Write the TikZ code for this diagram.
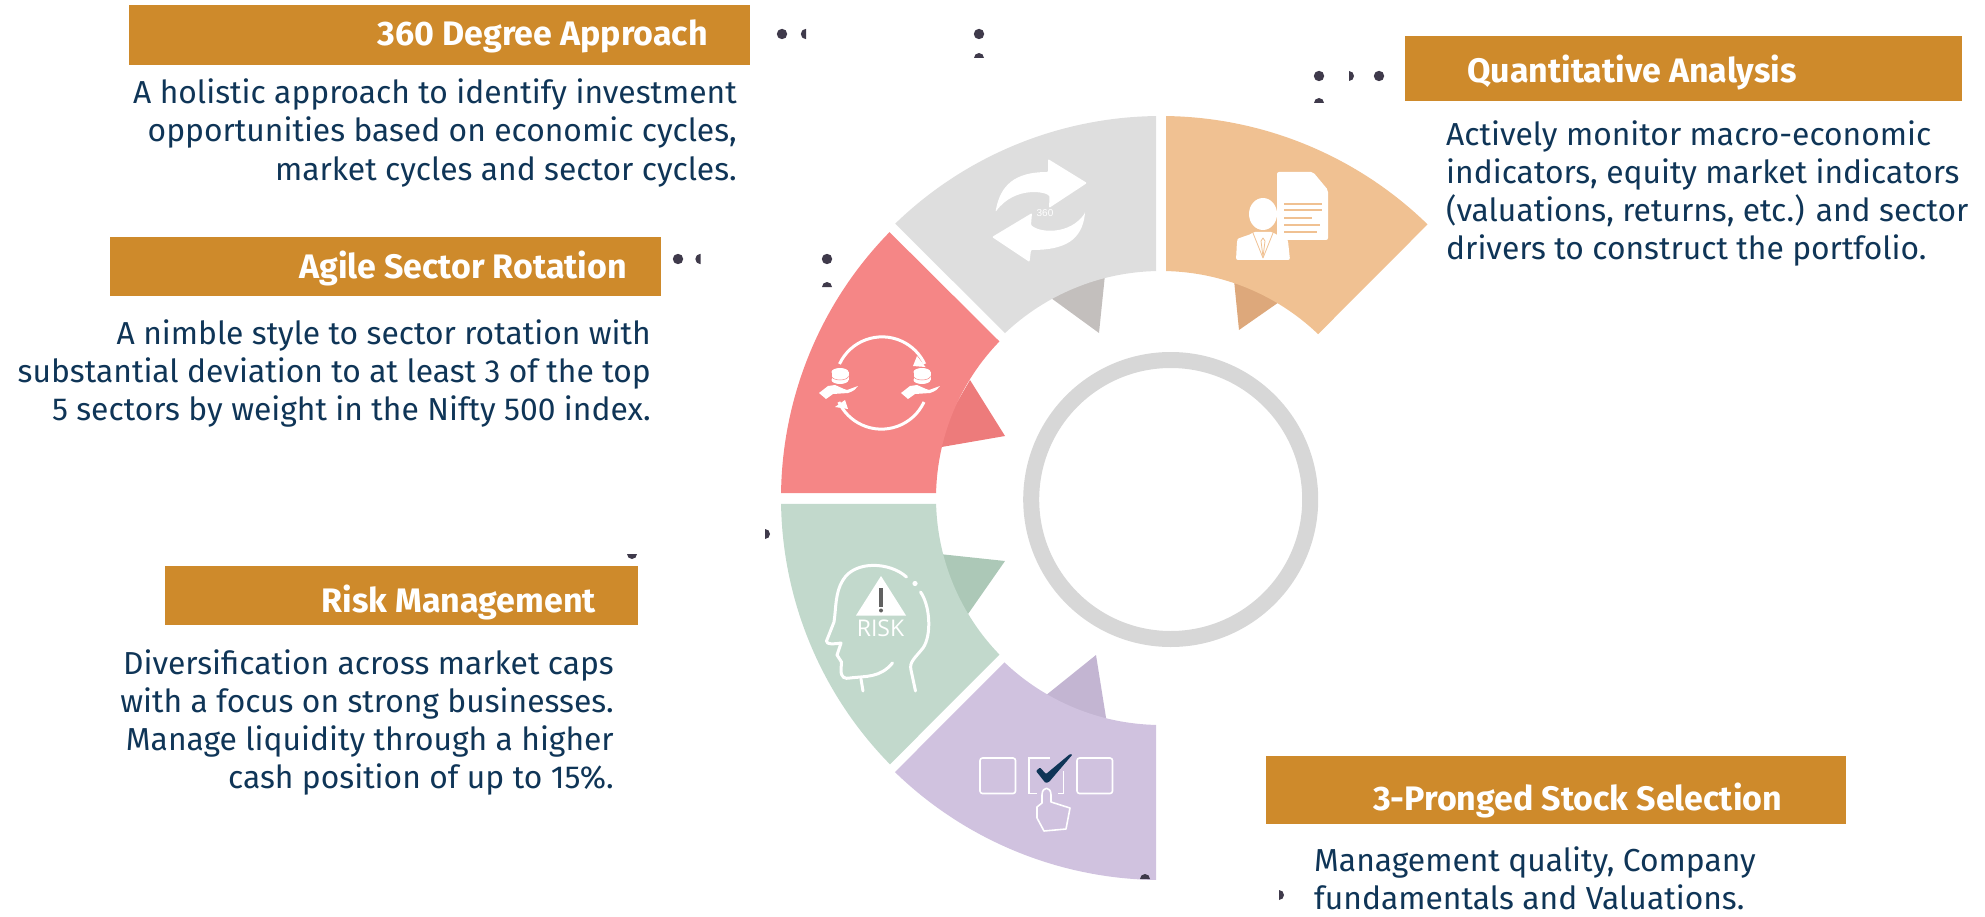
\documentclass[tikz,border=0pt]{standalone}
\usepackage{fontspec}
\setmainfont{Fira Sans}
\newfontfamily\riskfont{Open Sans}
\newfontfamily\tinyfont{Liberation Sans}
\definecolor{gold}{HTML}{CE8A2B}
\definecolor{navy}{HTML}{0F3557}
\definecolor{segGray}{HTML}{DEDEDE}
\definecolor{segOrange}{HTML}{F0C192}
\definecolor{segRed}{HTML}{F58686}
\definecolor{segGreen}{HTML}{C2D9CC}
\definecolor{segPurple}{HTML}{D0C2DF}
\definecolor{tabGray}{HTML}{C3BFBD}
\definecolor{tabOrange}{HTML}{DDA87B}
\definecolor{tabRed}{HTML}{ED7B7B}
\definecolor{tabGreen}{HTML}{ACC8B7}
\definecolor{tabPurple}{HTML}{C3B5D2}
\definecolor{ringGray}{HTML}{D7D7D7}
\definecolor{dotc}{HTML}{3F3A4B}
\tikzset{
  x=1pt,y=1pt,
  titlebar/.style={fill=gold,draw=none},
  titletext/.style={text=white,font=\fontsize{34}{38}\selectfont\bfseries,inner sep=0pt},
  bodyr/.style={text=navy,font=\fontsize{31.8}{38.3}\selectfont,inner sep=0pt,align=right,anchor=north east},
  bodyl/.style={text=navy,font=\fontsize{31.8}{38.3}\selectfont,inner sep=0pt,align=left,anchor=north west},
  whiteline/.style={draw=white,line width=3pt,line cap=round,line join=round},
  dot/.style={fill=dotc,draw=none}
}
\begin{document}
\begin{tikzpicture}
\useasboundingbox (0,0) rectangle (1985,-917);
\begin{scope}[y=-1pt]
% tabs behind the segments
\fill[tabGray] (1106,265) -- (1099,333) -- (1040,290) -- cycle;
\fill[tabOrange] (1233,270) -- (1239,330) -- (1292,293) -- cycle;
\fill[tabRed] (970,380) -- (1005,436) -- (930,449) -- cycle;
\fill[tabGreen] (930,553) -- (1005,561) -- (968,614) -- (950,620) -- cycle;
\fill[tabPurple] (1040,700) -- (1096,655) -- (1108,730) -- cycle;
\end{scope}
% segments, polar about the centre of the wheel
\begin{scope}[shift={(1161,-498)}]
\fill[segOrange] (89.25:382) arc[start angle=89.25,end angle=45.75,radius=382] -- (46.2:227) arc[start angle=46.2,end angle=88.74,radius=227] -- cycle;
\fill[segGray] (90.75:382) arc[start angle=90.75,end angle=134.1,radius=382] -- (133.4:227) arc[start angle=133.4,end angle=91.26,radius=227] -- cycle;
\fill[segRed] (135.6:380) arc[start angle=135.6,end angle=179.25,radius=380] -- (178.74:225) arc[start angle=178.74,end angle=135.9,radius=225] -- cycle;
\fill[segGreen] (180.9:380) arc[start angle=180.9,end angle=224.5,radius=380] -- (224.1:225) arc[start angle=224.1,end angle=181.5,radius=225] -- cycle;
\fill[segPurple] (225.85:382) arc[start angle=225.85,end angle=269.25,radius=382] -- (268.74:227) arc[start angle=268.74,end angle=226.4,radius=227] -- cycle;
\end{scope}
% centre ring
\draw[ringGray,line width=16pt] (1170.7,-499.5) circle[radius=139.5];
\begin{scope}[y=-1pt]
% title bars
\fill[titlebar] (129,5) rectangle (750,65);
\fill[titlebar] (110,237) rectangle (661,296);
\fill[titlebar] (1405,36) rectangle (1962,101);
\fill[titlebar] (165,566) rectangle (638,625);
\fill[titlebar] (1266,756) rectangle (1846,824);
% titles
\node[titletext,anchor=base east] (t1) at (708,46) {360 Degree Approach};
\node[titletext,anchor=base east] (t2) at (627,279) {Agile Sector Rotation};
\node[titletext,anchor=base west] (t3) at (1467,83) {Quantitative Analysis};
\node[titletext,anchor=base east] (t4) at (596,612) {Risk Management};
\node[titletext,anchor=base west] (t5) at (1373,810) {3-Pronged Stock Selection};
% body text
\node[bodyr] (b1) at (737,78.5) {A holistic approach to identify investment\\opportunities based on economic cycles,\\market cycles and sector cycles.};
\node[bodyr] (b2) at (651,319) {A nimble style to sector rotation with\\substantial deviation to at least 3 of the top\\5 sectors by weight in the Nifty 500 index.};
\node[bodyl] (b3) at (1446,120) {Actively monitor macro-economic\\indicators, equity market indicators\\(valuations, returns, etc.) and sector\\drivers to construct the portfolio.};
\node[bodyr] (b4) at (614,649) {Diversification across market caps\\with a focus on strong businesses.\\Manage liquidity through a higher\\cash position of up to 15\%.};
\node[bodyl] (b5) at (1314,846.5) {Management quality, Company\\fundamentals and Valuations.};
% dots
\foreach \dx/\dy in {782/34,979/34,678/259,827/259,1319/76,1379/76}
  \fill[dot] (\dx,\dy) circle[radius=5.2];
\fill[dot] (806,28.8) arc[start angle=-90,end angle=-270,radius=5.2] -- cycle;
\fill[dot] (700.5,253.8) arc[start angle=-90,end angle=-270,radius=5.2] -- cycle;
\fill[dot] (974,58) arc[start angle=180,end angle=360,radius=5] -- cycle;
\fill[dot] (822,287) arc[start angle=180,end angle=360,radius=5] -- cycle;
\fill[dot] (1314,103) arc[start angle=180,end angle=360,radius=5] -- cycle;
\fill[dot] (1140,879) arc[start angle=180,end angle=360,radius=5] -- cycle;
\fill[dot] (1349,71) arc[start angle=-90,end angle=90,radius=5] -- cycle;
\fill[dot] (765,529) arc[start angle=-90,end angle=90,radius=5] -- cycle;
\fill[dot] (1279,890) arc[start angle=-90,end angle=90,radius=5] -- cycle;
\fill[dot] (627,554) arc[start angle=180,end angle=0,radius=5] -- cycle;
% 360 arrows
\fill[white,rounded corners=1pt] (995.5,212) .. controls (1000,185) and (1015,172) .. (1048,172) -- (1048,159) -- (1087,183) -- (1049,208) -- (1049.5,197) .. controls (1048,192) and (1015,185) .. cycle;
\fill[white,rounded corners=1pt] (1085,213) .. controls (1082,240) and (1065,250) .. (1031,250) -- (1029.5,262) -- (992,237) -- (1032,213) -- (1031,225) .. controls (1040,233) and (1070,235) .. cycle;
\node[text=white,font=\tinyfont\fontsize{10}{10}\selectfont,inner sep=0pt] (n360) at (1045,213) {360};
% person with document
\fill[white,rounded corners=2pt] (1277,172) -- (1313,172) -- (1328,190) -- (1328,240) -- (1277,240) -- cycle;
\foreach \ly/\lx in {204/1322,210/1322,218/1312,225/1320,232/1317}
  \draw[segOrange,line width=1.5pt] (1284,\ly) -- (\lx,\ly);
\fill[segOrange] (1249,229) rectangle (1277,233);
\fill[white,rounded corners=2pt] (1236,260) -- (1237,241) .. controls (1238,238) and (1250,235) .. (1253,232) -- (1273,232) .. controls (1276,235) and (1287,238) .. (1288,241) -- (1290,260) -- cycle;
\fill[white] (1263,214) ellipse[x radius=14,y radius=16];
\draw[segOrange,line width=.8pt,line join=round] (1253,233) -- (1263,258) -- (1273,233);
\draw[segOrange,line width=.8pt,line join=round] (1261,241) -- (1263,257) -- (1265,241) -- (1263,238) -- cycle;
% sector rotation icon
\draw[white,line width=3pt] (839.5,364) arc[start angle=-155,end angle=-25,radius=47];
\draw[white,line width=3pt] (924,402) arc[start angle=25,end angle=155,radius=47];
\fill[white] (917,356) -- (925.5,367) -- (913,366) -- cycle;
\fill[white] (845,400) -- (835,407) -- (848,409) -- cycle;
\foreach \cx in {840,922}{
  \fill[white] (\cx-8.5,372) rectangle (\cx+8.5,380);
  \fill[white] (\cx,372) ellipse[x radius=8.5,y radius=4];
  \fill[white] (\cx,380) ellipse[x radius=8.5,y radius=4];
  \draw[segRed,line width=.5pt] (\cx-8.5,376) arc[start angle=180,end angle=0,x radius=8.5,y radius=4];
  \fill[white] (\cx-21,393) -- (\cx-14,399) -- (\cx-7,394) -- (\cx+8,393) .. controls (\cx+14,391) and (\cx+16,389) .. (\cx+18,386) -- (\cx+7,390) -- (\cx+4,389) -- (\cx-5,385) -- (\cx-12,386) -- cycle;
}
% risk icon
\draw[whiteline] (906.5,577) .. controls (890,562) and (855,560) .. (843,580) .. controls (835,592) and (836,610) .. (834,622) -- (826.5,641) .. controls (826,645) and (835,644) .. (841,643) -- (837,655) -- (841.5,662) -- (841,670) .. controls (841,678) and (845,679) .. (850,678) .. controls (866,676) and (880,678) .. (892.5,663);
\draw[whiteline] (861,679) -- (863,691);
\draw[whiteline] (920.5,592) .. controls (930,605) and (932,635) .. (923,648) .. controls (915,658) and (909,662) .. (911,670) -- (915.5,691);
\fill[white] (915,583.5) circle[radius=2.6];
\fill[white] (881,576) -- (856,615.5) -- (906,615.5) -- cycle;
\fill[white!38!black] (879,588) rectangle (883,607);
\fill[white!38!black] (881,610.5) circle[radius=2];
\node[text=white,font=\riskfont\fontsize{23}{23}\selectfont,inner sep=0pt] (rk) at (880.5,628) {RISK};
% checkbox icon
\draw[white,line width=1.6pt,rounded corners=2.5pt] (980,758) rectangle (1015.5,793.5);
\draw[white,line width=1.6pt,rounded corners=2.5pt] (1077,758) rectangle (1112.5,793.5);
\draw[white,line width=1.6pt] (1050,758) -- (1029,758) -- (1029,793.5) -- (1037,793.5);
\draw[white,line width=1.6pt] (1063.5,771) -- (1063.5,793.5) -- (1058,793.5);
\fill[navy,rounded corners=1pt] (1036,771) -- (1040,767.5) -- (1046,774) -- (1070,754) -- (1072.5,754.5) -- (1049,782) -- (1045.5,783) -- cycle;
\draw[white,line width=1.6pt,fill=segPurple,line join=round] (1042,795) .. controls (1042,786) and (1051,786) .. (1051,795) -- (1051,802) -- (1070,808) -- (1066,829) -- (1044,831) -- (1037,818) -- (1037,807) -- (1042,803) -- cycle;
\end{scope}
\end{tikzpicture}
\end{document}
